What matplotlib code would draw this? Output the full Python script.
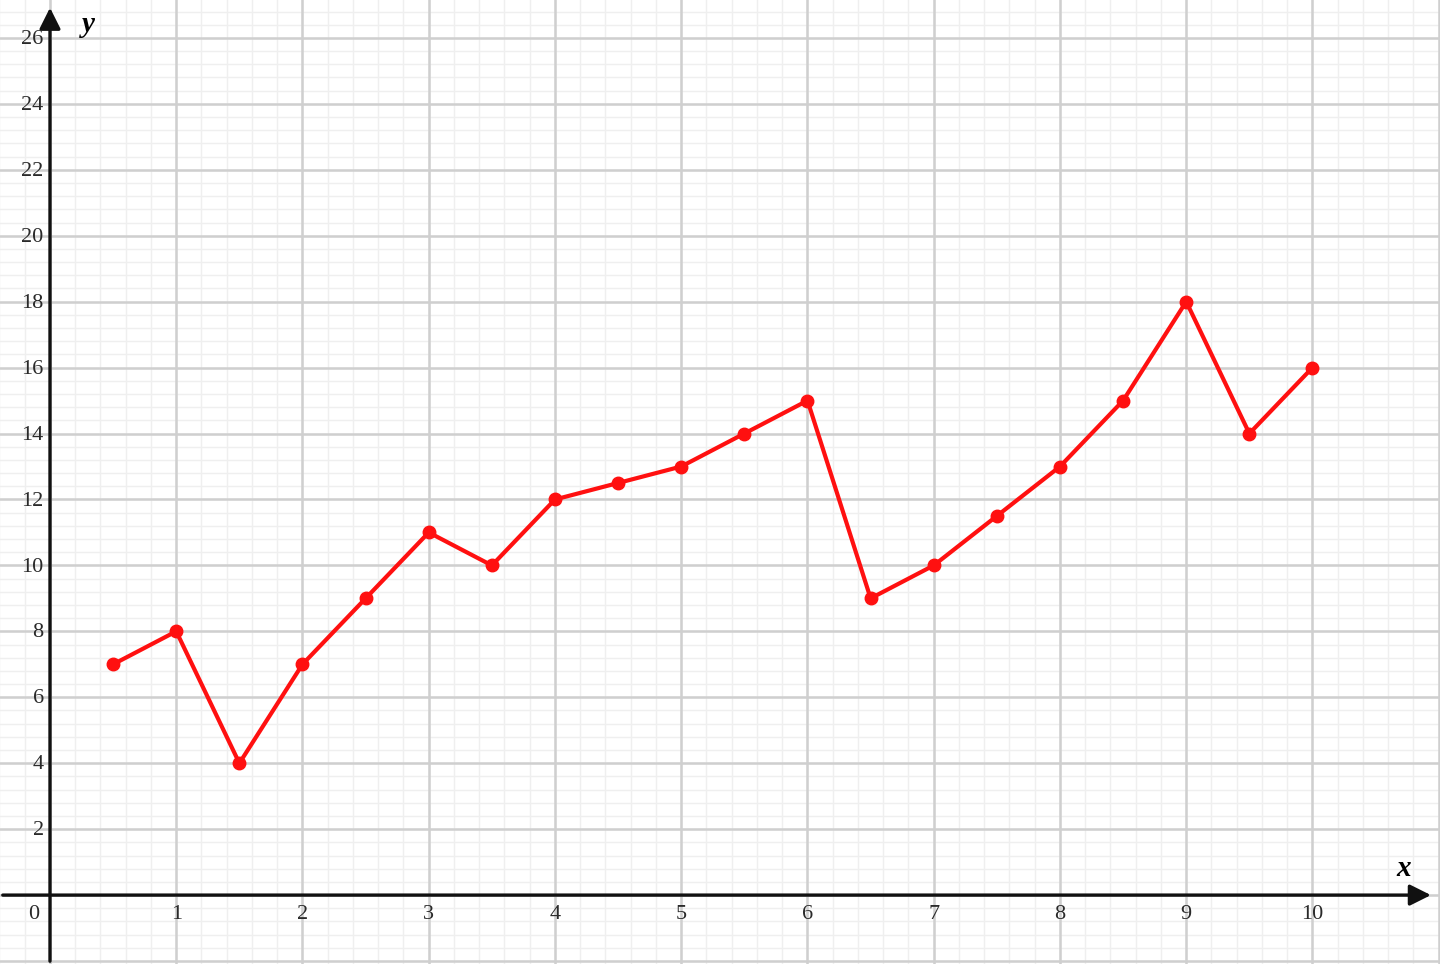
import matplotlib
matplotlib.use('Agg')
import matplotlib.pyplot as plt
import numpy as np

x_vals = [0.5, 1, 1.5, 2, 2.5, 3, 3.5, 4, 4.5, 5, 5.5, 6, 6.5, 7, 7.5, 8, 8.5, 9, 9.5, 10]
y_vals = [7, 8, 4, 7, 9, 11, 10, 12, 12.5, 13, 14, 15, 9, 10, 11.5, 13, 15, 18, 14, 16]
x_ticks = [1, 2, 3, 4, 5, 6, 7, 8, 9, 10]
y_ticks = [2, 4, 6, 8, 10, 12, 14, 16, 18, 20, 22, 24, 26]

plt.rcParams['font.family'] = ['Liberation Serif', 'DejaVu Serif']

fig = plt.figure(figsize=(14.4, 9.64), dpi=100)
ax = fig.add_axes([0, 0, 1, 1])
xmin, xmax = -0.396, 11.01
ymin, ymax = -2.09, 27.15
ax.set_xlim(xmin, xmax)
ax.set_ylim(ymin, ymax)
ax.axis('off')

# grid: minor every 0.2 / 0.4, major every 1 / 2
for v in np.arange(-0.4, 11.01, 0.2):
    ax.axvline(v, color='#efefef', lw=1.0, zorder=0)
for v in np.arange(-2.0, 27.2, 0.4):
    ax.axhline(v, color='#efefef', lw=1.0, zorder=0)
for v in range(0, 12):
    ax.axvline(v, color='#cfcfcf', lw=1.8, zorder=1)
for v in range(-2, 28, 2):
    ax.axhline(v, color='#cfcfcf', lw=1.8, zorder=1)

# axes with arrows
ax.annotate('', xy=(10.96, 0), xytext=(xmin, 0),
            arrowprops=dict(arrowstyle='-|>', color='#111111', lw=2.4,
                            mutation_scale=32), zorder=3)
ax.annotate('', xy=(0, 27.0), xytext=(0, ymin),
            arrowprops=dict(arrowstyle='-|>', color='#111111', lw=2.4,
                            mutation_scale=32), zorder=3)

# tick labels
for t in x_ticks:
    ax.text(t, -0.6, str(t), ha='center', va='center', fontsize=16, color='#2a2a2a')
ax.text(-0.13, -0.6, '0', ha='center', va='center', fontsize=16, color='#2a2a2a')
for t in y_ticks:
    ax.text(-0.05, t - 0.05, str(t), ha='right', va='center', fontsize=16, color='#2a2a2a')

ax.text(0.3, 26.4, 'y', fontsize=21, style='italic', fontweight='bold', ha='center', va='center')
ax.text(10.72, 0.82, 'x', fontsize=21, style='italic', fontweight='bold', ha='center', va='center')

ax.plot(x_vals, y_vals, color='#ff1010', lw=3, marker='o', markersize=9, zorder=5)

fig.savefig('out.png', dpi=100)
